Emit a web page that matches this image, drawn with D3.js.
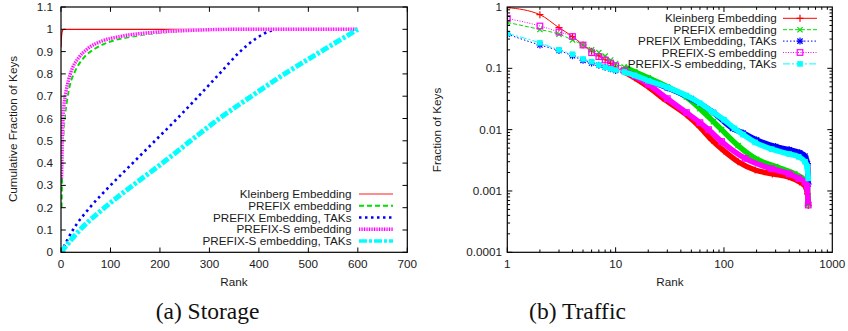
<!DOCTYPE html>
<html>
<head>
<meta charset="utf-8">
<script src="https://cdn.jsdelivr.net/npm/d3@7/dist/d3.min.js"></script>
<style>
  body { margin: 0; background: #fff; }
  svg { display: block; font-family: "Liberation Sans", Arial, sans-serif; }
</style>
</head>
<body>
<svg id="fig" width="848" height="331"></svg>
<script>
// ---- data ----
const seriesNames = [
  "Kleinberg Embedding",
  "PREFIX embedding",
  "PREFIX Embedding, TAKs",
  "PREFIX-S embedding",
  "PREFIX-S embedding, TAKs"
];

// (a) Storage: [rank, cumulative fraction of keys]
const storageKleinberg = [[0, 0.92], [1, 0.97], [3, 0.995], [5, 1], [600, 1]];
const storagePrefix = [[1, 0.2], [2, 0.32], [3, 0.43], [5, 0.53], [8, 0.61], [12, 0.68], [18, 0.75], [28, 0.81],
  [45, 0.87], [70, 0.915], [100, 0.945], [150, 0.97], [220, 0.988], [320, 0.998], [600, 1]];
const storagePrefixTaks = [[0, 0], [24, 0.1], [58, 0.2], [100, 0.3], [145, 0.4], [190, 0.5], [235, 0.6],
  [278, 0.7], [320, 0.8], [362, 0.9], [395, 0.96], [420, 0.99], [440, 1], [600, 1]];
const storagePrefixS = [[1, 0.33], [2, 0.45], [3, 0.54], [4, 0.6], [6, 0.66], [10, 0.72], [15, 0.77], [22, 0.82],
  [35, 0.87], [55, 0.915], [80, 0.945], [120, 0.968], [180, 0.985], [260, 0.995], [350, 1], [600, 1]];
const storagePrefixSTaks = [[0, 0], [38, 0.1], [88, 0.2], [145, 0.3], [205, 0.4], [262, 0.5], [320, 0.6],
  [385, 0.7], [452, 0.8], [525, 0.9], [600, 1]];

// (b) Traffic: [rank, fraction of keys]
const trafficKleinberg = [[1, 0.98], [2, 0.75], [3, 0.46], [4, 0.33], [5, 0.24], [6, 0.19], [7, 0.16], [8, 0.138],
  [9, 0.12], [10, 0.105], [12, 0.088], [15, 0.07], [20, 0.05], [27, 0.033], [45, 0.0175], [60, 0.011],
  [77, 0.0068], [100, 0.0045], [135, 0.003], [194, 0.0022], [280, 0.0019], [394, 0.0017], [500, 0.0014],
  [560, 0.0012], [590, 0.0009], [600, 0.00058]];
const trafficPrefix = [[1, 0.56], [2, 0.43], [3, 0.36], [4, 0.29], [5, 0.24], [6, 0.2], [7, 0.18], [8, 0.158],
  [9, 0.137], [10, 0.12], [12, 0.105], [15, 0.088], [20, 0.07], [30, 0.05], [45, 0.034], [60, 0.022],
  [80, 0.0135], [95, 0.01], [135, 0.0055], [200, 0.0033], [300, 0.0025], [450, 0.0019], [560, 0.0015],
  [590, 0.0011], [600, 0.0006]];
const trafficPrefixTaks = [[1, 0.36], [2, 0.24], [3, 0.195], [4, 0.16], [5, 0.135], [6, 0.122], [7, 0.112],
  [8, 0.104], [9, 0.098], [10, 0.092], [15, 0.075], [20, 0.063], [30, 0.048], [50, 0.032], [80, 0.019],
  [120, 0.0105], [150, 0.0088], [200, 0.0068], [300, 0.0053], [400, 0.0047], [500, 0.0042], [560, 0.0037],
  [590, 0.0028], [600, 0.0013]];
const trafficPrefixS = [[1, 0.65], [2, 0.49], [3, 0.39], [4, 0.33], [5, 0.24], [6, 0.18], [7, 0.155], [8, 0.137],
  [9, 0.122], [10, 0.11], [12, 0.092], [15, 0.075], [20, 0.055], [30, 0.032], [45, 0.019], [60, 0.013],
  [72, 0.01], [95, 0.0064], [157, 0.0034], [276, 0.0023], [400, 0.0019], [490, 0.0016], [560, 0.0014],
  [585, 0.0012], [600, 0.00059]];
const trafficPrefixSTaks = [[1, 0.37], [2, 0.26], [3, 0.2], [4, 0.17], [5, 0.142], [6, 0.128], [7, 0.113],
  [8, 0.104], [9, 0.098], [10, 0.094], [12, 0.087], [15, 0.077], [20, 0.063], [30, 0.049], [45, 0.036],
  [60, 0.027], [80, 0.019], [100, 0.0145], [125, 0.0105], [150, 0.0083], [194, 0.0062], [276, 0.0048],
  [400, 0.004], [490, 0.0036], [560, 0.003], [585, 0.0025], [600, 0.0016]];

const storageXTicks = [0, 100, 200, 300, 400, 500, 600, 700];
const storageYTicks = ["0", "0.1", "0.2", "0.3", "0.4", "0.5", "0.6", "0.7", "0.8", "0.9", "1", "1.1"];
const trafficXTicks = [1, 10, 100, 1000];
const trafficYTicks = ["0.0001", "0.001", "0.01", "0.1", "1"];

// ---- styles ----
const colors = ["#ff0000", "#00dd00", "#0000ff", "#ff00ff", "#00ffff"];
const storageStyle = [
  { w: 1.3, dash: null },
  { w: 2, dash: "5,3" },
  { w: 2.6, dash: "2.5,3.5" },
  { w: 3.4, dash: "1.1,1.4" },
  { w: 5, dash: "8,2,3,2" }
];
const trafficDash = [null, "4,2", "1.5,2", "1,1.5", "7,2,2,2"];
const markers = ["plus", "cross", "star", "square", "filled"];

const svg = d3.select("#fig");
const fontSize = 11.7;
const textColor = "#1a1a1a";

function frame(g, x0, x1, y0, y1) {
  g.append("rect").attr("x", x0).attr("y", y0).attr("width", x1 - x0).attr("height", y1 - y0)
    .attr("fill", "none").attr("stroke", "#000").attr("stroke-width", 1.2);
}

// draws one storage curve; the PREFIX-S one gets a pale underlay so it looks hatched
function storageStroke(sel, d, i, wMax) {
  const st = storageStyle[i];
  const w = Math.min(st.w, wMax);
  if (i === 3) {
    sel.append("path").attr("d", d).attr("fill", "none")
      .attr("stroke", "#ffccff").attr("stroke-width", w);
  }
  sel.append("path").attr("d", d).attr("fill", "none")
    .attr("stroke", colors[i]).attr("stroke-width", w)
    .attr("stroke-opacity", i === 0 && wMax < 4 ? 0.6 : 1)
    .attr("stroke-dasharray", st.dash);
}

// ================= (a) Storage =================
{
  const x = d3.scaleLinear().domain([0, 700]).range([61, 407.3]);
  const y = d3.scaleLinear().domain([0, 1.1]).range([252.3, 7]);
  const g = svg.append("g");

  svg.append("clipPath").attr("id", "clipA").append("rect")
    .attr("x", 61).attr("y", 7).attr("width", 346.3).attr("height", 245.3);

  const series = [storageKleinberg, storagePrefix, storagePrefixTaks, storagePrefixS, storagePrefixSTaks];
  const line = d3.line().x(d => x(d[0])).y(d => y(d[1])).curve(d3.curveMonotoneX);
  const plot = g.append("g").attr("clip-path", "url(#clipA)");
  series.forEach((s, i) => storageStroke(plot, line(s), i, 10));

  // ticks, mirrored, pointing in
  storageXTicks.forEach(t => {
    g.append("line").attr("x1", x(t)).attr("x2", x(t)).attr("y1", 252.3).attr("y2", 247.5).attr("stroke", "#000");
    g.append("line").attr("x1", x(t)).attr("x2", x(t)).attr("y1", 7).attr("y2", 11.8).attr("stroke", "#000");
    g.append("text").attr("x", x(t)).attr("y", 264).attr("dy", "0.35em").attr("text-anchor", "middle")
      .attr("font-size", fontSize).attr("fill", textColor).text(t);
  });
  storageYTicks.forEach(t => {
    const py = y(+t);
    g.append("line").attr("x1", 61).attr("x2", 65.8).attr("y1", py).attr("y2", py).attr("stroke", "#000");
    g.append("line").attr("x1", 407.3).attr("x2", 402.5).attr("y1", py).attr("y2", py).attr("stroke", "#000");
    g.append("text").attr("x", 53).attr("y", py).attr("dy", "0.35em").attr("text-anchor", "end")
      .attr("font-size", fontSize).attr("fill", textColor).text(t);
  });
  frame(g, 61, 407.3, 7, 252.3);

  g.append("text").attr("x", 234).attr("y", 282).attr("dy", "0.35em").attr("text-anchor", "middle")
    .attr("font-size", fontSize).attr("fill", textColor).text("Rank");
  g.append("text").attr("transform", "translate(13,129) rotate(-90)").attr("dy", "0.35em")
    .attr("text-anchor", "middle").attr("font-size", fontSize).attr("fill", textColor)
    .text("Cumulative Fraction of Keys");

  // legend
  seriesNames.forEach((name, i) => {
    const ly = 194 + i * 11.75;
    g.append("text").attr("x", 351.5).attr("y", ly).attr("dy", "0.35em").attr("text-anchor", "end")
      .attr("font-size", fontSize).attr("fill", textColor).text(name);
    storageStroke(g, `M359,${ly}H393`, i, 3.5);
  });

  g.append("text").attr("x", 207.5).attr("y", 319).attr("text-anchor", "middle")
    .attr("font-family", "'Liberation Serif', 'DejaVu Serif', serif").attr("font-size", 23.5)
    .attr("fill", "#111").text("(a) Storage");
}

// ================= (b) Traffic =================
function drawMarker(sel, type, cx, cy, color, size) {
  const h = size / 2;
  if (type === "plus" || type === "star") {
    sel.append("path").attr("d", `M${cx - h},${cy}H${cx + h}M${cx},${cy - h}V${cy + h}`)
      .attr("stroke", color).attr("stroke-width", 1.2);
  }
  if (type === "cross" || type === "star") {
    const k = h * 0.75;
    sel.append("path").attr("d", `M${cx - k},${cy - k}L${cx + k},${cy + k}M${cx - k},${cy + k}L${cx + k},${cy - k}`)
      .attr("stroke", color).attr("stroke-width", 1.2);
  }
  if (type === "square") {
    sel.append("rect").attr("x", cx - h * 0.8).attr("y", cy - h * 0.8).attr("width", h * 1.6).attr("height", h * 1.6)
      .attr("fill", "none").attr("stroke", color).attr("stroke-width", 1.2);
  }
  if (type === "filled") {
    sel.append("rect").attr("x", cx - h * 0.8).attr("y", cy - h * 0.8).attr("width", h * 1.6).attr("height", h * 1.6)
      .attr("fill", color);
  }
}

{
  const x = d3.scaleLog().domain([1, 1000]).range([507.3, 832.3]);
  const y = d3.scaleLog().domain([0.0001, 1]).range([252.3, 7]);
  const g = svg.append("g");

  svg.append("clipPath").attr("id", "clipB").append("rect")
    .attr("x", 507.3).attr("y", 7).attr("width", 325).attr("height", 245.3);
  const plot = g.append("g").attr("clip-path", "url(#clipB)");

  const series = [trafficKleinberg, trafficPrefix, trafficPrefixTaks, trafficPrefixS, trafficPrefixSTaks];
  const line = d3.line().x(d => x(d[0])).y(d => y(d[1])).curve(d3.curveMonotoneX);
  series.forEach((s, i) => {
    const sg = plot.append("g");
    // crowded markers at higher ranks merge into a band
    sg.append("path").attr("d", line(s.filter(d => d[0] >= 12))).attr("fill", "none")
      .attr("stroke", colors[i]).attr("stroke-width", 5.5).attr("stroke-linejoin", "round");
    sg.append("path").attr("d", line(s)).attr("fill", "none")
      .attr("stroke", colors[i]).attr("stroke-width", 1).attr("stroke-dasharray", trafficDash[i]);
    s.forEach(d => drawMarker(sg, markers[i], x(d[0]), y(d[1]), colors[i], 7));
  });

  // log ticks
  for (let dec = 1; dec < 1000; dec *= 10) {
    for (let m = 1; m < 10; m++) {
      const px = x(dec * m), len = m === 1 ? 5 : 2.8;
      g.append("line").attr("x1", px).attr("x2", px).attr("y1", 252.3).attr("y2", 252.3 - len).attr("stroke", "#000");
      g.append("line").attr("x1", px).attr("x2", px).attr("y1", 7).attr("y2", 7 + len).attr("stroke", "#000");
    }
  }
  for (let dec = 0.0001; dec < 0.99; dec *= 10) {
    for (let m = 1; m < 10; m++) {
      const py = y(dec * m), len = m === 1 ? 5 : 2.8;
      g.append("line").attr("x1", 507.3).attr("x2", 507.3 + len).attr("y1", py).attr("y2", py).attr("stroke", "#000");
      g.append("line").attr("x1", 832.3).attr("x2", 832.3 - len).attr("y1", py).attr("y2", py).attr("stroke", "#000");
    }
  }
  trafficXTicks.forEach(t => {
    g.append("text").attr("x", x(t)).attr("y", 264).attr("dy", "0.35em").attr("text-anchor", "middle")
      .attr("font-size", fontSize).attr("fill", textColor).text(t);
  });
  trafficYTicks.forEach(t => {
    g.append("text").attr("x", 502).attr("y", y(+t)).attr("dy", "0.35em").attr("text-anchor", "end")
      .attr("font-size", fontSize).attr("fill", textColor).text(t);
  });
  frame(g, 507.3, 832.3, 7, 252.3);

  g.append("text").attr("x", 670).attr("y", 282).attr("dy", "0.35em").attr("text-anchor", "middle")
    .attr("font-size", fontSize).attr("fill", textColor).text("Rank");
  g.append("text").attr("transform", "translate(437,130) rotate(-90)").attr("dy", "0.35em")
    .attr("text-anchor", "middle").attr("font-size", fontSize).attr("fill", textColor).text("Fraction of Keys");

  // legend
  seriesNames.forEach((name, i) => {
    const ly = 18.3 + i * 11.4;
    g.append("text").attr("x", 776.7).attr("y", ly).attr("dy", "0.35em").attr("text-anchor", "end")
      .attr("font-size", fontSize).attr("fill", textColor).text(name);
    g.append("line").attr("x1", 783).attr("x2", 817).attr("y1", ly).attr("y2", ly)
      .attr("stroke", colors[i]).attr("stroke-width", 1).attr("stroke-dasharray", trafficDash[i]);
    drawMarker(g, markers[i], 800, ly, colors[i], 7);
  });

  g.append("text").attr("x", 577.5).attr("y", 319).attr("text-anchor", "middle")
    .attr("font-family", "'Liberation Serif', 'DejaVu Serif', serif").attr("font-size", 23.5)
    .attr("fill", "#111").text("(b) Traffic");
}
</script>
</body>
</html>
